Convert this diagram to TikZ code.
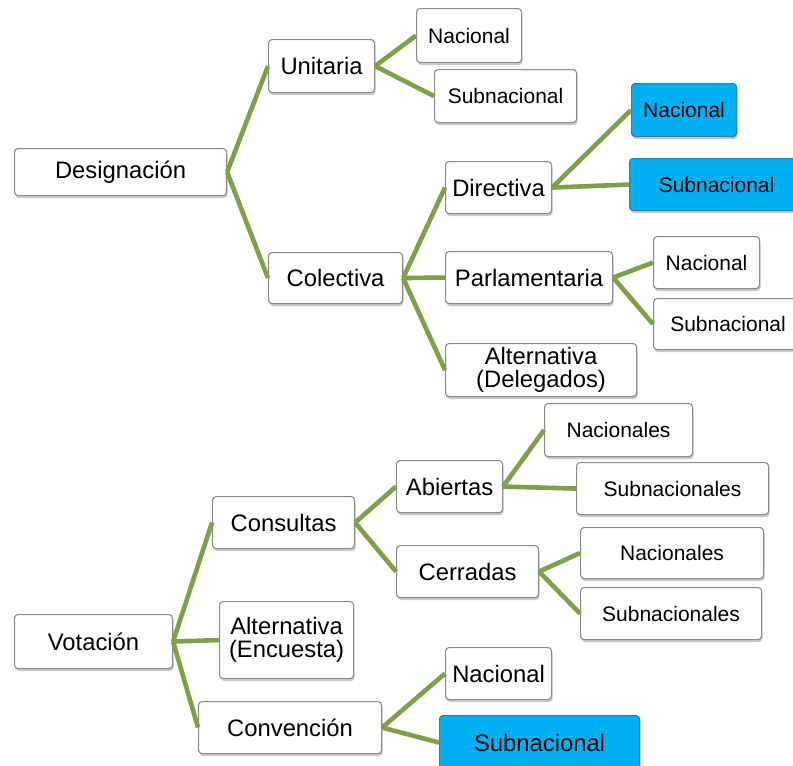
\documentclass[tikz,border=0pt]{standalone}
\usepackage{fontspec}
\setmainfont{Liberation Sans}
\usetikzlibrary{shadows}
\definecolor{conngreen}{HTML}{7F9F48}
\definecolor{boxblue}{HTML}{00B0F0}
\definecolor{boxline}{HTML}{8A8A8A}
\definecolor{blueline}{HTML}{2C7FAF}
\tikzset{
  base/.style={draw=boxline, line width=1.1pt, rounded corners=3.5pt, fill=white,
    inner sep=0pt, align=center, anchor=north west, text=black,
    drop shadow={shadow xshift=1pt, shadow yshift=-2.5pt, opacity=0.3, fill=black!70}},
  big/.style={base, font=\fontsize{23.8}{23}\selectfont},
  small/.style={base, font=\fontsize{21}{22}\selectfont},
  bluebox/.style={fill=boxblue, draw=blueline},
  conn/.style={draw=conngreen, line width=4.6pt}
}
\newcommand\mybox[7]{\node[#6, minimum width={(#4-#2)*1pt}, minimum height={(#5-#3)*1pt}] (#1) at (#2,#3) {#7};}
\begin{document}
\begin{tikzpicture}[x=1pt,y=-1pt]
\useasboundingbox (0,0) rectangle (793,766);
\clip (0,0) rectangle (793,766);
% boxes (drawn in a layer after connectors)
\begin{scope}
\mybox{des}{14}{148}{226}{195}{big}{Designación}
\mybox{uni}{268}{39}{374}{92}{big}{Unitaria}
\mybox{col}{268}{252}{402}{303}{big}{Colectiva}
\mybox{un}{416}{8}{521}{62}{small}{Nacional}
\mybox{us}{434}{69}{576}{122}{small}{Subnacional}
\mybox{dir}{445}{161}{551}{213}{big}{Directiva}
\mybox{par}{445}{251}{612}{303}{big}{Parlamentaria}
\mybox{alt}{445}{343}{636}{396}{big}{Alternativa\\(Delegados)}
\mybox{dn}{631}{83}{736}{136}{small,bluebox}{Nacional}
\mybox{ds}{629}{158}{803}{210}{small,bluebox}{Subnacional}
\mybox{pn}{653}{236}{759}{288}{small}{Nacional}
\mybox{ps}{653}{298}{802}{349}{small}{Subnacional}
\mybox{vot}{14}{614}{172}{668}{big}{Votación}
\mybox{con}{212}{496}{354}{548}{big}{Consultas}
\mybox{ale}{219}{601}{353}{678}{big}{Alternativa\\(Encuesta)}
\mybox{cvn}{198}{701}{381}{753}{big}{Convención}
\mybox{abi}{396}{460}{502}{512}{big}{Abiertas}
\mybox{cer}{396}{545}{538}{597}{big}{Cerradas}
\mybox{an}{544}{403}{692}{456}{small}{Nacionales}
\mybox{as}{576}{462}{768}{514}{small}{Subnacionales}
\mybox{cn}{580}{527}{763}{578}{small}{Nacionales}
\mybox{cs}{580}{587}{761}{639}{small}{Subnacionales}
\mybox{vn}{445}{647}{551}{699}{big}{Nacional}
\mybox{vs}{439}{715}{639}{769}{big,bluebox}{Subnacional}
\end{scope}
% connectors
\foreach \p/\c in {des/uni,des/col,uni/un,uni/us,col/dir,col/par,col/alt,dir/dn,dir/ds,par/pn,par/ps,
  vot/con,vot/ale,vot/cvn,con/abi,con/cer,abi/an,abi/as,cer/cn,cer/cs,cvn/vn,cvn/vs}
  {\draw[conn] (\p.east) -- (\c.west);}
\end{tikzpicture}
\end{document}
